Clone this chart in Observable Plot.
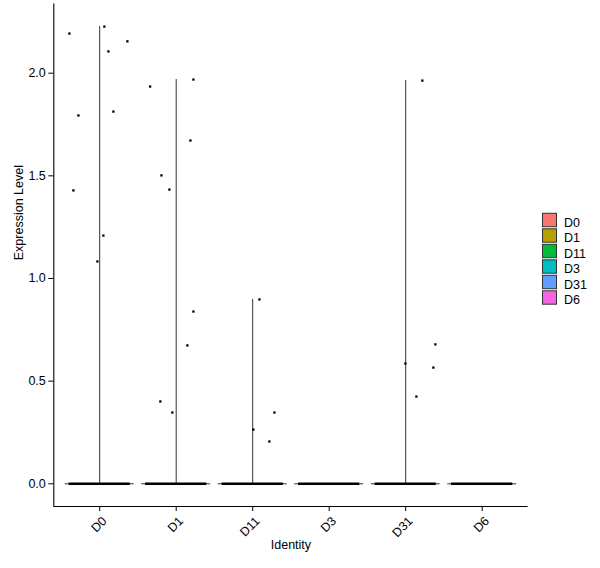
<!DOCTYPE html>
<html><head><meta charset="utf-8">
<script src="https://cdn.jsdelivr.net/npm/d3@7"></script>
<script src="https://cdn.jsdelivr.net/npm/@observablehq/plot@0.6"></script>
<style>
body{margin:0;background:#fff;font-family:"Liberation Sans",Arial,sans-serif;}
#wrap{position:relative;width:600px;height:568px;}
#wrap svg{position:absolute;left:0;top:0;}
</style></head><body><div id="wrap"></div>
<script>
const categories = ["D0","D1","D11","D3","D31","D6"];
const colors = ["#F8766D","#B79F00","#00BA38","#00BFC4","#619CFF","#F564E3"];
const yTicks = [0, 0.5, 1, 1.5, 2];
const xTitle = "Identity";
const yTitle = "Expression Level";

// non-zero cells (all other cells have expression 0)
const pointCategory = [
  "D0","D0","D0","D0","D0","D0","D0","D0","D0",
  "D1","D1","D1","D1","D1","D1","D1","D1","D1",
  "D11","D11","D11","D11",
  "D31","D31","D31","D31","D31"
];
const pointValue = [
  2.193, 2.227, 2.155, 2.106, 1.794, 1.813, 1.429, 1.209, 1.083,
  1.935, 1.969, 1.672, 1.502, 1.433, 0.839, 0.674, 0.401, 0.347,
  0.898, 0.347, 0.264, 0.206,
  1.964, 0.679, 0.586, 0.566, 0.425
];
const pointJitter = [
  -0.396, 0.061, 0.362, 0.114, -0.278, 0.179, -0.344, 0.048, -0.030,
  -0.341, 0.225, 0.186, -0.193, -0.089, 0.225, 0.146, -0.207, -0.050,
  0.088, 0.284, 0.009, 0.218,
  0.218, 0.388, -0.004, 0.362, 0.140
];

const idx = categories.map((c, i) => i);
const cells = pointValue.map((v, k) => ({cat: pointCategory[k], value: v, jitter: pointJitter[k]}));
const violins = categories.map((c, i) => ({
  i, c, max: d3.max(cells.filter(d => d.cat === c), d => d.value) ?? 0
}));

const xDomain = [-0.6, categories.length - 0.4];
const yDomain = [-0.1106, 2.337];

const chart = Plot.plot({
  width: 600, height: 568,
  marginTop: 3.5, marginBottom: 62, marginLeft: 53.3, marginRight: 72.4,
  x: {type: "linear", domain: xDomain},
  y: {domain: yDomain},
  style: {fontFamily: "'Liberation Sans', Arial, sans-serif", fontSize: "12px", color: "#000", background: "#fff", overflow: "visible"},
  marks: [
    Plot.ruleY(violins, {y: () => 0, x1: d => d.i - 0.45, x2: d => d.i + 0.45, stroke: "#333", strokeWidth: 1}),
    Plot.ruleX(violins.filter(d => d.max > 0), {x: "i", y1: () => 0, y2: "max", stroke: "#333", strokeWidth: 1}),
    Plot.ruleY(violins, {y: () => 0, x1: d => d.i - 0.4, x2: d => d.i + 0.4, stroke: "#000", strokeWidth: 2.5}),
    Plot.dot(cells, {x: d => categories.indexOf(d.cat) + d.jitter, y: "value", symbol: "square", r: 1.3, fill: "#000", stroke: null}),
    Plot.ruleX([xDomain[0]], {stroke: "#000", strokeWidth: 1.1}),
    Plot.ruleY([yDomain[0]], {stroke: "#000", strokeWidth: 1.1}),
    Plot.axisY(yTicks, {tickFormat: d3.format(".1f"), tickSize: 5, tickPadding: 3, label: null, stroke: "#000", fontSize: 12.5}),
    Plot.axisX(idx, {tickSize: 5, tickFormat: () => "", label: null, stroke: "#000"}),
    Plot.text(idx, {x: d => d, text: d => categories[d], frameAnchor: "bottom", dy: 9, dx: 1.5, rotate: -45, textAnchor: "end", lineAnchor: "top", fill: "#000", fontSize: 12.5}),
    Plot.text([yTitle], {frameAnchor: "left", dx: -35, dy: 5, rotate: -90, fill: "#000", fontSize: 12.5}),
    Plot.text([xTitle], {frameAnchor: "bottom", dy: 42, fill: "#000", fontSize: 12.5})
  ]
});
document.getElementById("wrap").appendChild(chart);

// legend
const lg = d3.select("#wrap").append("svg")
  .attr("width", 600).attr("height", 568)
  .style("pointer-events", "none");
const step = 15.5, x0 = 542.5, y0 = 213.3;
categories.forEach((c, i) => {
  lg.append("rect").attr("x", x0).attr("y", y0 + i * step)
    .attr("width", 14).attr("height", 13.4)
    .attr("fill", colors[i]).attr("stroke", "#333").attr("stroke-width", 1);
  lg.append("text").attr("x", 564).attr("y", y0 + i * step + 13.3)
    .attr("font-family", "'Liberation Sans', Arial, sans-serif").attr("font-size", 12.5)
    .attr("fill", "#000").text(c);
});
</script></body></html>
